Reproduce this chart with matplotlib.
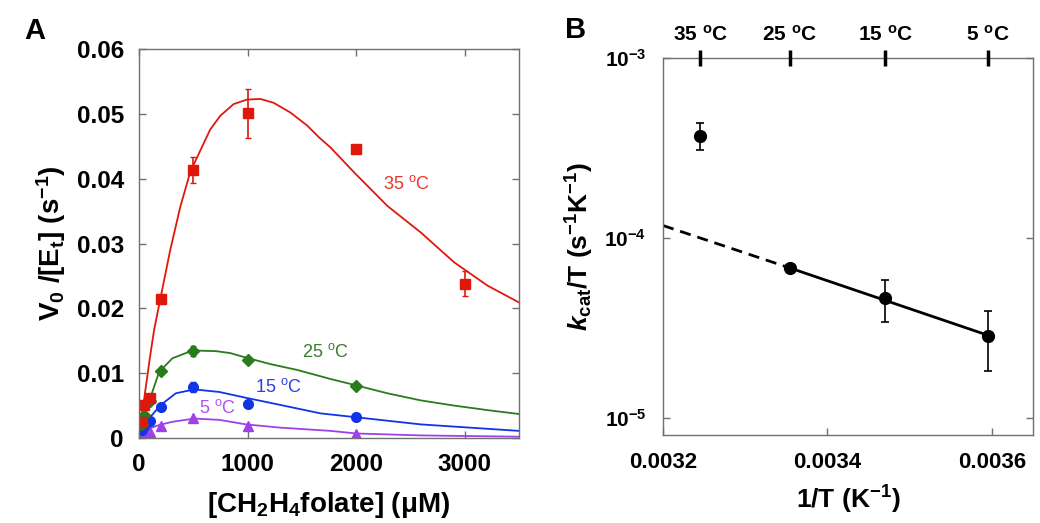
import matplotlib
matplotlib.use('Agg')
import matplotlib.pyplot as plt

plt.rcParams['font.family'] = ['Liberation Sans', 'DejaVu Sans']
plt.rcParams['mathtext.fontset'] = 'custom'
plt.rcParams['mathtext.rm'] = 'Liberation Sans:bold'
plt.rcParams['mathtext.it'] = 'Liberation Sans:italic:bold'
plt.rcParams['mathtext.bf'] = 'Liberation Sans:bold'

# ---- panel A data ----
conc = [25, 50, 100, 200, 500, 1000, 2000, 3000]
v_35 = [0.0025, 0.0051, 0.0062, 0.0214, 0.0413, 0.0501, 0.0446, 0.0238]
err_35 = [0, 0, 0, 0, 0.0020, 0.0038, 0.0005, 0.0019]
conc_low = [25, 50, 100, 200, 500, 1000, 2000]
v_25 = [0.0022, 0.0035, 0.0057, 0.0103, 0.0134, 0.0121, 0.0080]
err_25 = [0, 0, 0, 0, 0.0008, 0, 0]
v_15 = [0.0013, 0.0018, 0.0027, 0.0048, 0.0079, 0.0052, 0.0032]
err_15 = [0, 0, 0, 0, 0.0008, 0, 0]
v_5 = [0.0003, 0.0005, 0.0009, 0.0018, 0.0031, 0.0018, 0.0006]

# fitted curves
fit35_x = [0, 50, 100, 138, 200, 286, 379, 471, 563, 656, 748, 871, 994, 1117, 1240,
           1394, 1548, 1656, 1764, 1979, 2287, 2595, 2902, 3210, 3500]
fit35_y = [0, 0.0064, 0.0124, 0.0166, 0.0218, 0.0289, 0.0356, 0.0410, 0.0443, 0.0476,
           0.0497, 0.0515, 0.0522, 0.0523, 0.0517, 0.0502, 0.0482, 0.0464, 0.0448,
           0.0410, 0.0358, 0.0317, 0.0271, 0.0235, 0.0209]
fit25_x = [0, 40, 92, 185, 308, 492, 708, 840, 985, 1210, 1456, 1764, 2004, 2287,
           2595, 2902, 3210, 3500]
fit25_y = [0, 0.0030, 0.0056, 0.0102, 0.0123, 0.0135, 0.0134, 0.0131, 0.0124, 0.0114,
           0.0105, 0.0091, 0.0081, 0.0069, 0.0058, 0.0050, 0.0043, 0.0037]
fit15_x = [0, 25, 55, 92, 200, 339, 508, 739, 985, 1302, 1671, 2000, 2595, 3500]
fit15_y = [0, 0.0010, 0.0020, 0.0030, 0.0051, 0.0069, 0.0075, 0.0071, 0.0062, 0.0051,
           0.0038, 0.0032, 0.0021, 0.0011]
fit5_x = [0, 100, 185, 308, 508, 739, 985, 1302, 1764, 2000, 2595, 3500]
fit5_y = [0, 0.0015, 0.0020, 0.0025, 0.0030, 0.0028, 0.0021, 0.0016, 0.0011, 0.0007,
          0.0004, 0.0002]

# ---- panel B data ----
temps = [35, 25, 15, 5]
kcat_T = [3.7e-4, 6.8e-5, 4.6e-5, 2.86e-5]
kcat_T_err = [6.3e-5, 0, 1.2e-5, 1.05e-5]
line_x = [0.0032, 0.003354, 0.003595]
line_y = [1.17e-4, 6.8e-5, 2.87e-5]

RED = '#e0180c'
GREEN = '#2a7a1e'
BLUE = '#1034e6'
PURPLE = '#a040e8'
SPINE = '#707070'

fig = plt.figure(figsize=(10.4, 5.23), dpi=100)

# ================= panel A =================
ax = fig.add_axes([0.1337, 0.1625, 0.3654, 0.7438])
ax.plot(fit35_x, fit35_y, color=RED, lw=1.3)
ax.plot(fit25_x, fit25_y, color=GREEN, lw=1.3)
ax.plot(fit15_x, fit15_y, color=BLUE, lw=1.3)
ax.plot(fit5_x, fit5_y, color=PURPLE, lw=1.3)

ax.errorbar(conc_low, v_5, fmt='^', color=PURPLE, ms=7, mec=PURPLE)
ax.errorbar(conc_low, v_15, yerr=err_15, fmt='o', color=BLUE, ms=7, capsize=2.5, elinewidth=1.2)
ax.errorbar(conc_low, v_25, yerr=err_25, fmt='D', color=GREEN, ms=6, capsize=2.5, elinewidth=1.2)
ax.errorbar(conc, v_35, yerr=err_35, fmt='s', color=RED, ms=7.5, capsize=2.5, elinewidth=1.2)

ax.text(2465, 0.0392, '35 $^{\\mathregular{o}}$C', color='#e8352a', fontsize=13,
        ha='center', va='center')
ax.text(1717, 0.0132, '25 $^{\\mathregular{o}}$C', color='#3a7d2a', fontsize=13,
        ha='center', va='center')
ax.text(1283, 0.0078, '15 $^{\\mathregular{o}}$C', color='#2a3ee8', fontsize=13,
        ha='center', va='center')
ax.text(720, 0.0046, '5 $^{\\mathregular{o}}$C', color='#b050f0', fontsize=13,
        ha='center', va='center')

ax.set_xlim(0, 3500)
ax.set_ylim(0, 0.06)
ax.set_xticks([0, 1000, 2000, 3000])
ax.set_xticklabels(['0', '1000', '2000', '3000'])
ax.set_yticks([0, 0.01, 0.02, 0.03, 0.04, 0.05, 0.06])
ax.set_yticklabels(['0', '0.01', '0.02', '0.03', '0.04', '0.05', '0.06'])
ax.tick_params(direction='in', length=5, width=1, color=SPINE, top=True, right=True,
               labelsize=17.5, pad=11)
for lab in ax.get_xticklabels() + ax.get_yticklabels():
    lab.set_fontweight('bold')
for s in ax.spines.values():
    s.set_color(SPINE)
    s.set_linewidth(1)
ax.set_xlabel('[CH$_{\\mathregular{2}}$H$_{\\mathregular{4}}$folate] (\u03bcM)',
              fontsize=20, fontweight='bold', labelpad=10)
ax.set_ylabel('V$_{\\mathregular{0}}$ /[E$_{\\mathregular{t}}$] (s$^{\\mathregular{-1}}$)',
              fontsize=20, fontweight='bold', labelpad=6)
fig.text(0.033, 0.94, 'A', fontsize=21, fontweight='bold', ha='center', va='center')

# ================= panel B =================
inv_T = [1.0 / (t + 273.15) for t in temps]
bx = fig.add_axes([0.6375, 0.1683, 0.3558, 0.7208])
bx.set_yscale('log')
bx.plot(line_x[:2], line_y[:2], color='black', lw=2, ls=(0, (4, 2.5)))
bx.plot(line_x[1:], line_y[1:], color='black', lw=2)
bx.errorbar(inv_T, kcat_T, yerr=kcat_T_err, fmt='o', color='black', ms=8.5,
            capsize=3, elinewidth=1.2, capthick=1.2)

bx.set_xlim(0.0032, 0.00365)
bx.set_ylim(8e-6, 1e-3)
bx.set_xticks([0.0032, 0.0034, 0.0036])
bx.set_xticklabels(['0.0032', '0.0034', '0.0036'])
bx.set_yticks([1e-5, 1e-4, 1e-3])
bx.set_yticklabels(['10$^{\\mathregular{-5}}$', '10$^{\\mathregular{-4}}$',
                    '10$^{\\mathregular{-3}}$'])
bx.yaxis.set_minor_locator(matplotlib.ticker.NullLocator())
bx.tick_params(direction='in', length=5, width=1, color=SPINE, right=True,
               labelsize=16, pad=12)
bx.tick_params(axis='y', labelsize=15)
for lab in bx.get_xticklabels() + bx.get_yticklabels():
    lab.set_fontweight('bold')
for s in bx.spines.values():
    s.set_color(SPINE)
    s.set_linewidth(1)
bx.set_xlabel('1/T (K$^{\\mathregular{-1}}$)', fontsize=19, fontweight='bold', labelpad=8)
bx.set_ylabel('$k$$_{\\mathregular{cat}}$/T (s$^{\\mathregular{-1}}$K$^{\\mathregular{-1}}$)',
              fontsize=19, fontweight='bold', labelpad=6)

top = bx.twiny()
top.set_xlim(bx.get_xlim())
top.set_xticks(inv_T)
top.set_xticklabels(['%d $^{\\mathregular{o}}$C' % t for t in temps])
top.tick_params(direction='inout', length=11, width=2.5, color='black',
                labelsize=15, pad=4)
for lab in top.get_xticklabels():
    lab.set_fontweight('bold')
for s in top.spines.values():
    s.set_visible(False)
fig.text(0.553, 0.943, 'B', fontsize=21, fontweight='bold', ha='center', va='center')

fig.savefig('out.png', dpi=100)
